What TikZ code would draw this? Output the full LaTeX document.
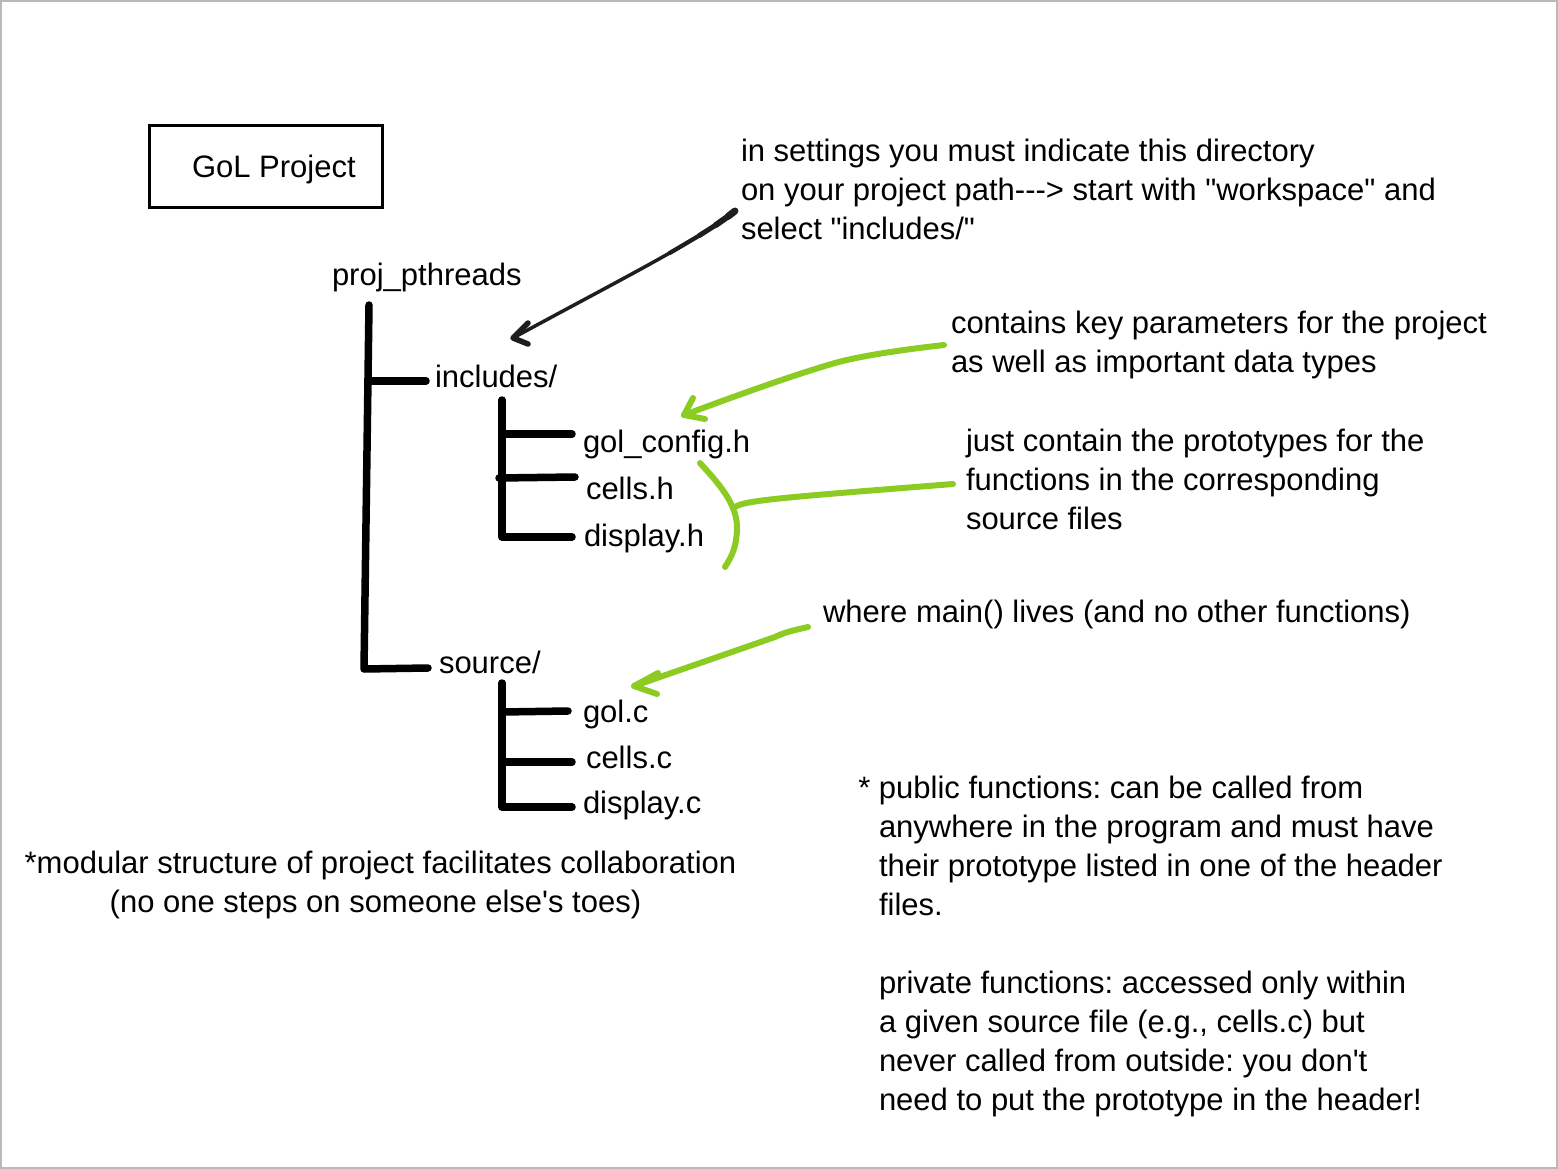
\documentclass[tikz,border=0pt]{standalone}
\usepackage{fontspec}
\setmainfont{Liberation Sans}[Ligatures=TeXOff]
\definecolor{lime}{RGB}{140,204,34}
\definecolor{inkarrow}{RGB}{30,30,30}
\begin{document}
\frenchspacing
\begin{tikzpicture}[x=1pt,y=-1pt,
  every node/.style={font=\fontsize{31}{39}\selectfont, inner sep=0pt, outer sep=0pt},
  lbl/.style={anchor=base west, align=left},
  treeline/.style={line width=7.5pt, line cap=round, line join=round},
  greenline/.style={draw=lime, line width=6pt, line cap=round, line join=round},
  blackline/.style={draw=inkarrow, line width=3.5pt, line cap=round, line join=round}]
\useasboundingbox (0,0) rectangle (1558,1169);
\draw[gray!55, line width=1.5pt] (1,1) rectangle (1557,1168);

% title box
\node[draw, line width=3.5pt, minimum width=233pt, minimum height=82pt, anchor=north west] (box) at (149.5,125.5) {};
\node[lbl] (title) at (192,178) {GoL Project};

% tree labels
\node[lbl] (proj) at (332,285) {proj\_pthreads};
\node[lbl] (inc) at (435,387) {includes/};
\node[lbl] (golh) at (583,452) {gol\_config.h};
\node[lbl] (cellsh) at (586,499) {cells.h};
\node[lbl] (disph) at (584,546) {display.h};
\node[lbl] (src) at (439,673) {source/};
\node[lbl] (golc) at (583,722) {gol.c};
\node[lbl] (cellsc) at (586,768) {cells.c};
\node[lbl] (dispc) at (583,813) {display.c};

% tree coordinates
\coordinate (rtop) at (369,305);
\coordinate (rbot) at (364,669);
\coordinate (rinc) at (368,381);
\coordinate (incend) at (426,381);
\coordinate (srcend) at (428,668);
\coordinate (itop) at (502,400);
\coordinate (ibot) at (502,537);
\coordinate (ib1) at (502,434);
\coordinate (ie1) at (572,434);
\coordinate (ib2) at (499,478);
\coordinate (ie2) at (575,477);
\coordinate (ie3) at (572,537);
\coordinate (stop) at (502,683);
\coordinate (sbot) at (502,807);
\coordinate (sb1) at (502,712);
\coordinate (se1) at (568,711);
\coordinate (sb2) at (502,762);
\coordinate (se2) at (572,762);
\coordinate (se3) at (572,807);

\draw[treeline] (rtop) -- (rbot) -- (srcend);
\draw[treeline] (rinc) -- (incend);
\draw[treeline] (itop) -- (ibot) -- (ie3);
\draw[treeline] (ib1) -- (ie1);
\draw[treeline] (ib2) -- (ie2);
\draw[treeline] (stop) -- (sbot) -- (se3);
\draw[treeline] (sb1) -- (se1);
\draw[treeline] (sb2) -- (se2);

% annotations (base anchor = baseline of the last line)
\node[lbl] (note1) at (741,240) {in settings you must indicate this directory\\on your project path---> start with "workspace" and\\select "includes/"};
\node[lbl] (note2) at (951,372) {contains key parameters for the project\\as well as important data types};
\node[lbl] (note3) at (966,529) {just contain the prototypes for the\\functions in the corresponding\\source files};
\node[lbl] (note4) at (823,622) {where main() lives (and no other functions)};
\node[anchor=base, align=center] (note5) at (380.5,912) {*modular structure of project facilitates collaboration\\(no one steps on someone else's toes)\hspace*{10pt}};
\node[lbl] (note6) at (879,1110) {\llap{* }public functions: can be called from\\anywhere in the program and must have\\their prototype listed in one of the header\\files.\\[39pt]private functions: accessed only within\\a given source file (e.g., cells.c) but\\never called from outside: you don't\\need to put the prototype in the header!};

% black arrow (tapering from thick start)
\coordinate (a1s) at (735,211);
\coordinate (a1t) at (513,338);
\draw[blackline] (a1s) .. controls (700,240) and (610,285) .. (a1t);
\draw[blackline, line width=7pt] (a1s) -- (728.1,216.4);
\draw[blackline, line width=6pt] (728.1,216.4) -- (715.7,225.1);
\draw[blackline, line width=5pt] (715.7,225.1) -- (699.2,235.6);
\draw[blackline, line width=4.2pt] (699.2,235.6) -- (669.7,253);
\draw[blackline, line width=5.5pt] (528,323) -- (a1t) -- (528,344);

% green arrow 1
\coordinate (g1s) at (944,345);
\coordinate (g1t) at (684,415);
\draw[greenline] (g1s) .. controls (900,350) and (860,356) .. (835,363) .. controls (790,376) and (730,398) .. (g1t);
\draw[greenline] (693,398) -- (g1t) -- (705,419);

% brace
\coordinate (bra) at (700,463);
\coordinate (brm) at (735,507);
\coordinate (brb) at (725,567);
\coordinate (brr) at (953,484);
\draw[greenline] (bra) .. controls (720,485) and (738,505) .. (737,530) .. controls (736,548) and (732,556) .. (brb);
\draw[greenline] (brm) .. controls (745,500) and (790,497) .. (brr);

% green arrow 2
\coordinate (g2s) at (808,627);
\coordinate (g2t) at (634,686);
\draw[greenline] (g2s) .. controls (795,630) and (785,632) .. (775,637) -- (g2t);
\draw[greenline] (658,673) -- (g2t) -- (657,694);
\end{tikzpicture}
\end{document}
